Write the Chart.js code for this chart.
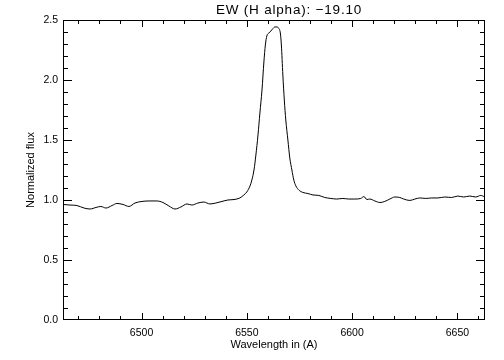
<!DOCTYPE html>
<html>
<head>
<meta charset="utf-8">
<script src="https://cdn.jsdelivr.net/npm/chart.js@4/dist/chart.umd.min.js"></script>
<style>
  html,body{margin:0;padding:0;background:#fff;}
  #wrap{width:504px;height:360px;}
</style>
</head>
<body>
<div id="wrap"><canvas id="c" width="504" height="360"></canvas></div>
<script>
// ---- data ----
const wavelength = [
  6462.7, 6466.0, 6469.3, 6472.7, 6475.5, 6478.4, 6480.7, 6483.1, 6486.0, 6488.3,
  6491.2, 6494.0, 6496.9, 6500.2, 6504.0, 6507.3, 6510.2, 6513.0, 6515.9, 6518.7,
  6521.6, 6523.9, 6526.8, 6529.6, 6532.5, 6535.3, 6538.2, 6541.0, 6543.9, 6546.7,
  6548.6, 6550.0, 6551.5, 6552.4, 6553.4, 6554.3, 6555.3, 6556.2, 6557.2, 6558.1,
  6558.8, 6559.5, 6560.5, 6561.4, 6562.4, 6563.3, 6564.3, 6565.2, 6565.9, 6566.4,
  6567.1, 6567.8, 6568.5, 6569.5, 6570.4, 6571.4, 6572.3, 6573.3, 6574.7, 6576.6,
  6579.0, 6581.4, 6584.2, 6587.0, 6589.9, 6592.7, 6595.6, 6598.4, 6601.3, 6604.1,
  6605.6, 6607.0, 6608.4, 6610.8, 6613.2, 6615.5, 6617.9, 6620.3, 6622.6, 6624.5,
  6627.4, 6629.8, 6632.1, 6635.0, 6637.8, 6640.7, 6644.0, 6647.3, 6650.2, 6653.0,
  6655.9, 6658.7, 6661.1, 6663.0
];
const flux = [
  0.963, 0.958, 0.954, 0.933, 0.925, 0.938, 0.946, 0.933, 0.954, 0.971,
  0.963, 0.946, 0.975, 0.988, 0.992, 0.992, 0.979, 0.950, 0.925, 0.942,
  0.967, 0.958, 0.975, 0.983, 0.967, 0.975, 0.988, 1.000, 1.004, 1.017,
  1.042, 1.067, 1.117, 1.167, 1.250, 1.375, 1.542, 1.725, 1.917, 2.150,
  2.292, 2.367, 2.392, 2.408, 2.429, 2.442, 2.442, 2.429, 2.392, 2.292,
  2.042, 1.833, 1.667, 1.500, 1.350, 1.250, 1.167, 1.117, 1.083, 1.063,
  1.054, 1.042, 1.038, 1.021, 1.013, 1.008, 1.013, 1.008, 1.008, 1.013,
  1.029, 1.004, 1.008, 0.992, 0.979, 0.988, 1.008, 1.025, 1.021, 1.008,
  0.996, 1.008, 1.017, 1.013, 1.017, 1.017, 1.025, 1.021, 1.033, 1.025,
  1.033, 1.025, 1.038, 1.025
];
const xRange = [6462.7, 6663.1];
const yRange = [0, 2.5];
const xMajorTicks = [6500, 6550, 6600, 6650];
const xMinorStep = 10;
const yMajorTicks = [0, 0.5, 1.0, 1.5, 2.0, 2.5];
const yTickLabels = ['0.0', '0.5', '1.0', '1.5', '2.0', '2.5'];
const yMinorStep = 0.1;
const titleText = 'EW (H alpha): \u221219.10';
const xTitle = 'Wavelength in (A)';
const yTitle = 'Normalized flux';

const FONT = "'Liberation Sans', Arial, Helvetica, sans-serif";

const frameTicks = {
  id: 'frameTicks',
  afterDraw(chart) {
    const ctx = chart.ctx;
    const a = chart.chartArea;
    const x = chart.scales.x, y = chart.scales.y;
    ctx.save();
    ctx.fillStyle = '#000';
    const L = Math.round(a.left), R = Math.round(a.right) - 1;
    const T = Math.round(a.top), B = Math.round(a.bottom) - 1;
    // frame (1px)
    ctx.fillRect(L, T, R - L + 1, 1);
    ctx.fillRect(L, B, R - L + 1, 1);
    ctx.fillRect(L, T, 1, B - T + 1);
    ctx.fillRect(R, T, 1, B - T + 1);
    const eps = 1e-6;
    // x ticks (bottom & top, pointing inward)
    const xStart = Math.ceil(xRange[0] / xMinorStep) * xMinorStep;
    for (let v = xStart; v <= xRange[1] + eps; v += xMinorStep) {
      const major = xMajorTicks.some(m => Math.abs(m - v) < eps);
      const len = major ? 6 : 3;
      const px = Math.round(x.getPixelForValue(v));
      ctx.fillRect(px, B - len, 1, len);
      ctx.fillRect(px, T + 1, 1, len);
    }
    // y ticks (left & right, pointing inward)
    const nY = Math.round((yRange[1] - yRange[0]) / yMinorStep);
    for (let i = 0; i <= nY; i++) {
      const v = yRange[0] + i * yMinorStep;
      const major = yMajorTicks.some(m => Math.abs(m - v) < eps);
      const len = major ? 8 : 4;
      const py = Math.min(B, Math.round(y.getPixelForValue(v)));
      ctx.fillRect(L + 1, py, len, 1);
      ctx.fillRect(R - len, py, len, 1);
    }
    // plot title
    ctx.font = '13.5px ' + FONT;
    if ('letterSpacing' in ctx) ctx.letterSpacing = '0.8px';
    ctx.textAlign = 'center';
    ctx.textBaseline = 'middle';
    ctx.fillText(titleText, 289, 10);
    ctx.restore();
  }
};

new Chart(document.getElementById('c'), {
  type: 'line',
  data: {
    datasets: [{
      data: wavelength.map((w, i) => ({x: w, y: flux[i]})),
      borderColor: '#000',
      borderWidth: 1,
      pointRadius: 0,
      fill: false,
      cubicInterpolationMode: 'monotone'
    }]
  },
  options: {
    responsive: false,
    animation: false,
    devicePixelRatio: 1,
    layout: {padding: {top: 20, right: 19, left: 0, bottom: 0}},
    plugins: {legend: {display: false}, tooltip: {enabled: false}, title: {display: false}},
    scales: {
      x: {
        type: 'linear',
        min: xRange[0], max: xRange[1],
        grid: {display: false, drawTicks: false, tickLength: 0},
        border: {display: false},
        afterBuildTicks: s => { s.ticks = xMajorTicks.map(v => ({value: v})); },
        afterFit: s => { s.height = 40; },
        ticks: {
          color: '#000', font: {family: FONT, size: 10.5}, padding: 7,
          maxRotation: 0, autoSkip: false,
          callback: v => String(v)
        },
        title: {display: true, text: xTitle, color: '#000', font: {family: FONT, size: 11}, padding: {top: 0, bottom: 8}}
      },
      y: {
        type: 'linear',
        min: yRange[0], max: yRange[1],
        grid: {display: false, drawTicks: false, tickLength: 0},
        border: {display: false},
        afterBuildTicks: s => { s.ticks = yMajorTicks.map(v => ({value: v})); },
        afterFit: s => { s.width = 63; },
        ticks: {
          color: '#000', font: {family: FONT, size: 10.5}, padding: 5,
          autoSkip: false,
          callback: (v) => { const k = yMajorTicks.findIndex(m => Math.abs(m - v) < 1e-6); return k >= 0 ? yTickLabels[k] : ''; }
        },
        title: {display: true, text: yTitle, color: '#000', font: {family: FONT, size: 11}, padding: {top: 24, bottom: 0}}
      }
    }
  },
  plugins: [frameTicks]
});
</script>
</body>
</html>
